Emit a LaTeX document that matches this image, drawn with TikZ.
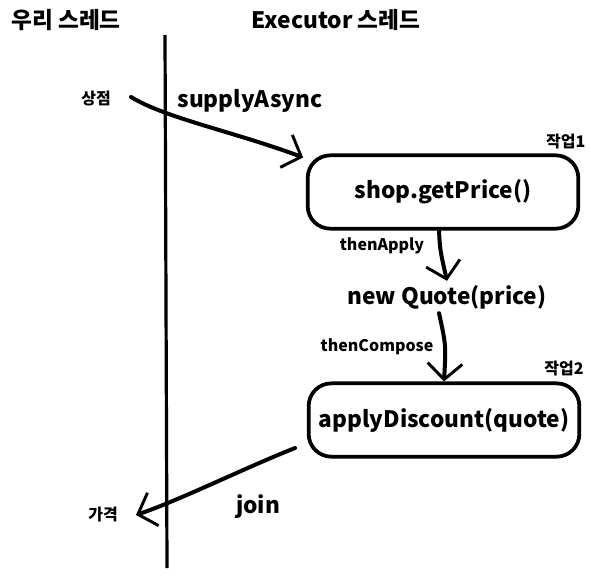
\documentclass[tikz,border=0pt]{standalone}
\usepackage{fontspec}
\setmainfont{Noto Sans CJK KR}
\usetikzlibrary{arrows.meta,positioning}
\tikzset{
  task/.style  = {rectangle, rounded corners=17pt, draw=black, line width=2.8pt,
                  minimum width=203pt, minimum height=55pt, inner sep=0pt,
                  font=\fontsize{17}{20}\selectfont\bfseries},
  lbl/.style   = {inner sep=0pt, font=\fontsize{17}{20}\selectfont\bfseries},
  tag/.style   = {inner sep=0pt, font=\fontsize{12}{14}\selectfont\bfseries},
  head/.style  = {inner sep=0pt, font=\fontsize{17}{20}\selectfont\bfseries},
  fl/.style    = {-{Straight Barb[length=12pt,width=26pt,line width=2.2pt]},
                  line width=3pt, line cap=round},
  lane/.style  = {line width=2.4pt},
}
\begin{document}
\begin{tikzpicture}[x=0.75pt,y=-0.75pt]
  \useasboundingbox (0,0) rectangle (591,582);
  % titles and the lane line
  \node[head] (ours) at (66,20) {우리 스레드};
  \node[head] (exec) at (336,20) {Executor 스레드};
  \coordinate (top) at (165,35);
  \coordinate (bot) at (167,568);
  \draw[lane] (top) -- (bot);
  % tasks
  \node[task] (box1) at (443,192) {shop.getPrice()};
  \node[task] (box2) at (444,420) {applyDiscount(quote)};
  \node[tag, anchor=south east] (job1) at ([xshift=4pt,yshift=3pt]box1.north east) {작업1};
  \node[tag, anchor=south east] (job2) at ([xshift=2pt,yshift=4pt]box2.north east) {작업2};
  \node[lbl] (quote) at (447,297) {new Quote(price)};
  % labels
  \node[tag] (shop) at (96,99) {상점};
  \node[tag] (price) at (103,514) {가격};
  \node[lbl] (supply) at (250,101) {supplyAsync};
  \node[tag] (apply) at (382,246) {thenApply};
  \node[tag] (compose) at (377,347) {thenCompose};
  \node[lbl] (join) at (258,507) {join};
  % connectors
  \coordinate (s0) at (131,97);
  \coordinate (j0) at (295,448);
  \coordinate (j1) at (136,515);
  \draw[fl] (s0) .. controls (165,118) and (235,132) .. ([xshift=-2pt,yshift=-3pt]box1.north west);
  \draw[fl] ([xshift=-3pt]box1.south) .. controls (440,250) .. ([yshift=3pt]quote.north);
  \draw[fl] ([xshift=-6pt,yshift=-3pt]quote.south) .. controls (446,345) .. (box2.north);
  \draw[fl] (j0) .. controls (240,470) and (180,500) .. (j1);
\end{tikzpicture}
\end{document}
